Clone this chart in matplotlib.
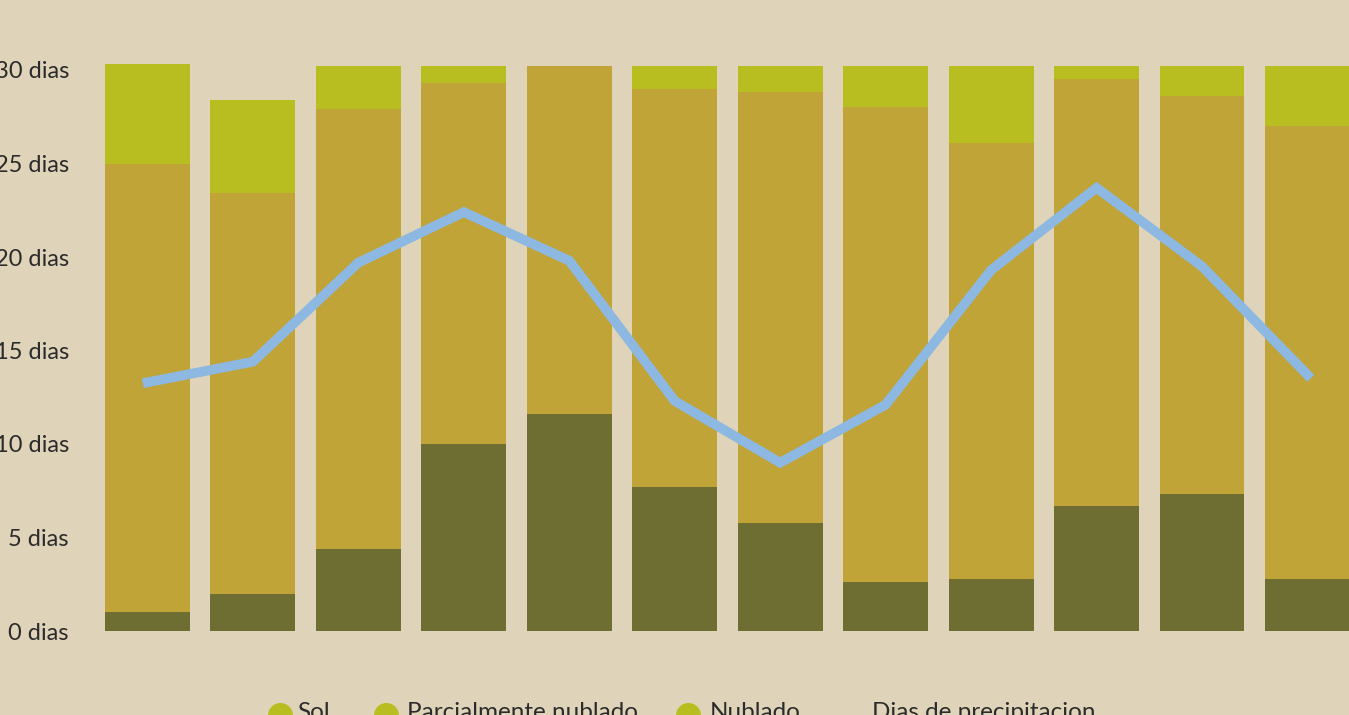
import matplotlib
matplotlib.use("Agg")
import matplotlib.pyplot as plt
from matplotlib.lines import Line2D

plt.rcParams['font.family'] = ['Lato', 'DejaVu Sans']

months = list(range(12))
sol = [1.0, 2.0, 4.4, 10.0, 11.6, 7.7, 5.8, 2.6, 2.8, 6.7, 7.3, 2.8]
parcial = [24.0, 21.4, 23.5, 19.3, 18.6, 21.3, 23.0, 25.4, 23.3, 22.8, 21.3, 24.2]
nublado = [5.3, 5.0, 2.3, 0.9, 0.0, 1.2, 1.4, 2.2, 4.1, 0.7, 1.6, 3.2]
precip = [13.3, 14.4, 19.7, 22.4, 19.8, 12.3, 9.0, 12.1, 19.3, 23.7, 19.5, 13.7]
yticks = [0, 5, 10, 15, 20, 25, 30]
ytick_labels = ["0 dias", "5 dias", "10 dias", "15 dias", "20 dias", "25 dias", "30 dias"]
legend_labels = ["Sol", "Parcialmente nublado", "Nublado", "Dias de precipitacion"]

bg = "#dfd4b9"
c_sol = "#6e6e33"
c_parc = "#c0a437"
c_nub = "#b9be20"
c_line = "#8cb8e2"

W, H = 1349, 715
fig = plt.figure(figsize=(W / 100, H / 100), dpi=100, facecolor=bg)
ax = fig.add_axes([105 / W, (H - 631) / H, (W - 105) / W, 32 * 18.7 / H])
ax.set_facecolor(bg)

width = 0.806
bottom2 = [a + b for a, b in zip(sol, parcial)]
ax.bar(months, sol, width=width, color=c_sol, zorder=2)
ax.bar(months, parcial, width=width, bottom=sol, color=c_parc, zorder=2)
ax.bar(months, nublado, width=width, bottom=bottom2, color=c_nub, zorder=2)
ax.plot(months, precip, color=c_line, lw=7, solid_joinstyle='miter', zorder=3)

ax.set_xlim(-0.403, 11.394)
ax.set_ylim(0, 32)
ax.set_xticks([])
ax.set_yticks(yticks)
ax.set_yticklabels(ytick_labels, fontsize=17, color="#2b2b2b")
ax.tick_params(axis='y', length=0, pad=26)
for s in ax.spines.values():
    s.set_visible(False)

# legend (cut at the bottom of the image, as in the reference)
cy = 1 - 715 / H
items = [(280, 297), (386, 407), (688, 710), (None, 872)]
for (cx, tx), lab in zip(items, legend_labels):
    if cx is not None:
        fig.add_artist(Line2D([cx / W], [cy], marker='o', markersize=17,
                              color=c_nub, linestyle='none', transform=fig.transFigure))
    fig.text(tx / W, (H - 719) / H, lab, fontsize=17.5, color="#2b2b2b",
             ha='left', va='baseline')

fig.savefig("out.png", dpi=100, facecolor=bg)
